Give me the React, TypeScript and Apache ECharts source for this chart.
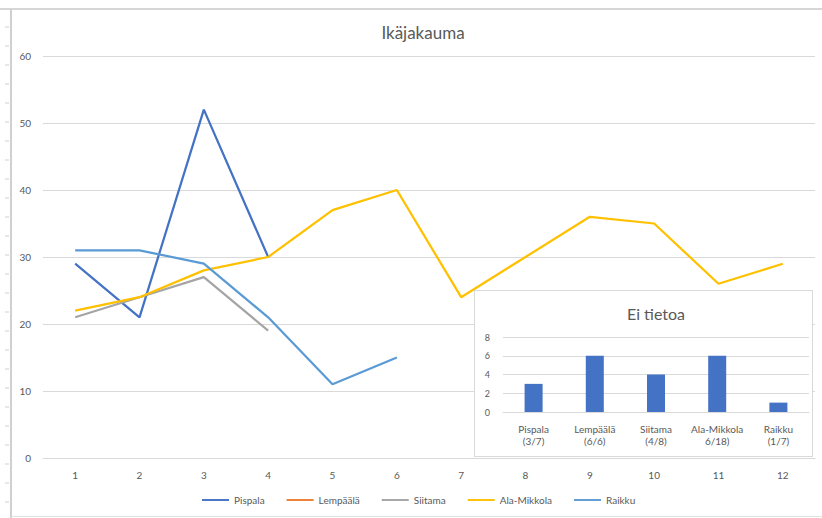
import React, { useEffect, useRef } from "react";
import * as echarts from "echarts";

const categories = ["1", "2", "3", "4", "5", "6", "7", "8", "9", "10", "11", "12"];
const seriesNames = ["Pispala", "Lempäälä", "Siitama", "Ala-Mikkola", "Raikku"];
const seriesColors = ["#4472C4", "#ED7D31", "#A5A5A5", "#FFC000", "#5B9BD5"];
const pispala = [29, 21, 52, 30];
const lempaala: number[] = [];
const siitama = [21, 24, 27, 19];
const alaMikkola = [22, 24, 28, 30, 37, 40, 24, 30, 36, 35, 26, 29];
const raikku = [31, 31, 29, 21, 11, 15];
const yMin = 0;
const yMax = 60;
const yInterval = 10;

const insetCategories = ["Pispala\n(3/7)", "Lempäälä\n(6/6)", "Siitama\n(4/8)", "Ala-Mikkola\n6/18)", "Raikku\n(1/7)"];
const insetValues = [3, 6, 4, 6, 1];
const insetMax = 8;
const insetInterval = 2;

const FONT = "Lato, 'Noto Sans', sans-serif";
const TXT = "#595959";
const GRID = "#d9d9d9";

export default function App() {
  const mainRef = useRef<HTMLDivElement>(null);
  const insetRef = useRef<HTMLDivElement>(null);

  useEffect(() => {
    const main = echarts.init(mainRef.current!, null, { renderer: "svg" });
    const inset = echarts.init(insetRef.current!, null, { renderer: "svg" });

    const allData = [pispala, lempaala, siitama, alaMikkola, raikku];
    const ticks: any[] = [];
    for (let y = 27; y < 518; y += 19) {
      ticks.push({
        type: "line",
        shape: { x1: 5, y1: y, x2: 9, y2: y },
        style: { stroke: "#cfcfcf", lineWidth: 1 },
        silent: true,
      });
    }

    main.setOption({
      animation: false,
      textStyle: { fontFamily: FONT },
      title: {
        text: "Ikäjakauma",
        left: 418,
        textAlign: "center",
        top: 19,
        textStyle: { fontFamily: FONT, fontSize: 17, fontWeight: "normal", color: TXT },
      },
      graphic: [
        { type: "line", shape: { x1: 0, y1: 9, x2: 822, y2: 9 }, style: { stroke: "#d6d6d6", lineWidth: 2 }, silent: true },
        { type: "line", shape: { x1: 11, y1: 9, x2: 11, y2: 518 }, style: { stroke: "#d0d0d0", lineWidth: 2 }, silent: true },
        { type: "line", shape: { x1: 11, y1: 516.5, x2: 822, y2: 516.5 }, style: { stroke: "#e2e2e2", lineWidth: 1 }, silent: true },
        ...ticks,
      ],
      legend: {
        left: 197,
        top: 490,
        itemWidth: 27,
        itemHeight: 14,
        itemGap: 22,
        icon: "path://M0,6H28V8H0Z",
        textStyle: { fontFamily: FONT, fontSize: 10, color: TXT },
        data: seriesNames,
      },
      grid: { left: 43, right: 7, top: 56, bottom: 60, containLabel: false },
      xAxis: {
        type: "category",
        data: categories,
        boundaryGap: true,
        axisLine: { show: true, lineStyle: { color: GRID, width: 1 } },
        axisTick: { show: false },
        axisLabel: { color: TXT, fontSize: 10, fontFamily: FONT, margin: 12 },
      },
      yAxis: {
        type: "value",
        min: yMin,
        max: yMax,
        interval: yInterval,
        axisLine: { show: false },
        axisTick: { show: false },
        axisLabel: { color: TXT, fontSize: 10, fontFamily: FONT, margin: 12 },
        splitLine: { lineStyle: { color: GRID, width: 1 } },
      },
      series: seriesNames.map((name, i) => ({
        name,
        type: "line",
        data: allData[i],
        symbol: "none",
        color: seriesColors[i],
        lineStyle: { color: seriesColors[i], width: 2.25 },
        itemStyle: { color: seriesColors[i] },
      })),
    });

    inset.setOption({
      animation: false,
      textStyle: { fontFamily: FONT },
      title: {
        text: "Ei tietoa",
        left: 176,
        textAlign: "center",
        top: 9,
        textStyle: { fontFamily: FONT, fontSize: 16, fontWeight: "normal", color: TXT },
      },
      grid: { left: 28, right: 3, top: 46, bottom: 44, containLabel: false },
      xAxis: {
        type: "category",
        data: insetCategories,
        axisLine: { show: true, lineStyle: { color: GRID, width: 1 } },
        axisTick: { show: false },
        axisLabel: { color: TXT, fontSize: 10, fontFamily: FONT, margin: 11, lineHeight: 12, interval: 0 },
      },
      yAxis: {
        type: "value",
        min: 0,
        max: insetMax,
        interval: insetInterval,
        axisLine: { show: false },
        axisTick: { show: false },
        axisLabel: { color: TXT, fontSize: 9, fontFamily: FONT, margin: 13 },
        splitLine: { lineStyle: { color: GRID, width: 1 } },
      },
      series: [
        {
          type: "bar",
          data: insetValues,
          barWidth: 18,
          itemStyle: { color: "#4472C4" },
        },
      ],
    });

    return () => {
      main.dispose();
      inset.dispose();
    };
  }, []);

  return (
    <div style={{ position: "absolute", left: 0, top: 0, width: 822, height: 518, background: "#fff" }}>
      <div ref={mainRef} style={{ position: "absolute", left: 0, top: 0, width: 822, height: 518 }} />
      <div
        style={{
          position: "absolute",
          left: 474,
          top: 290,
          width: 339,
          height: 167,
          background: "#fff",
          border: "1px solid #d9d9d9",
          boxSizing: "border-box",
        }}
      >
        <div ref={insetRef} style={{ width: 337, height: 165 }} />
      </div>
    </div>
  );
}
